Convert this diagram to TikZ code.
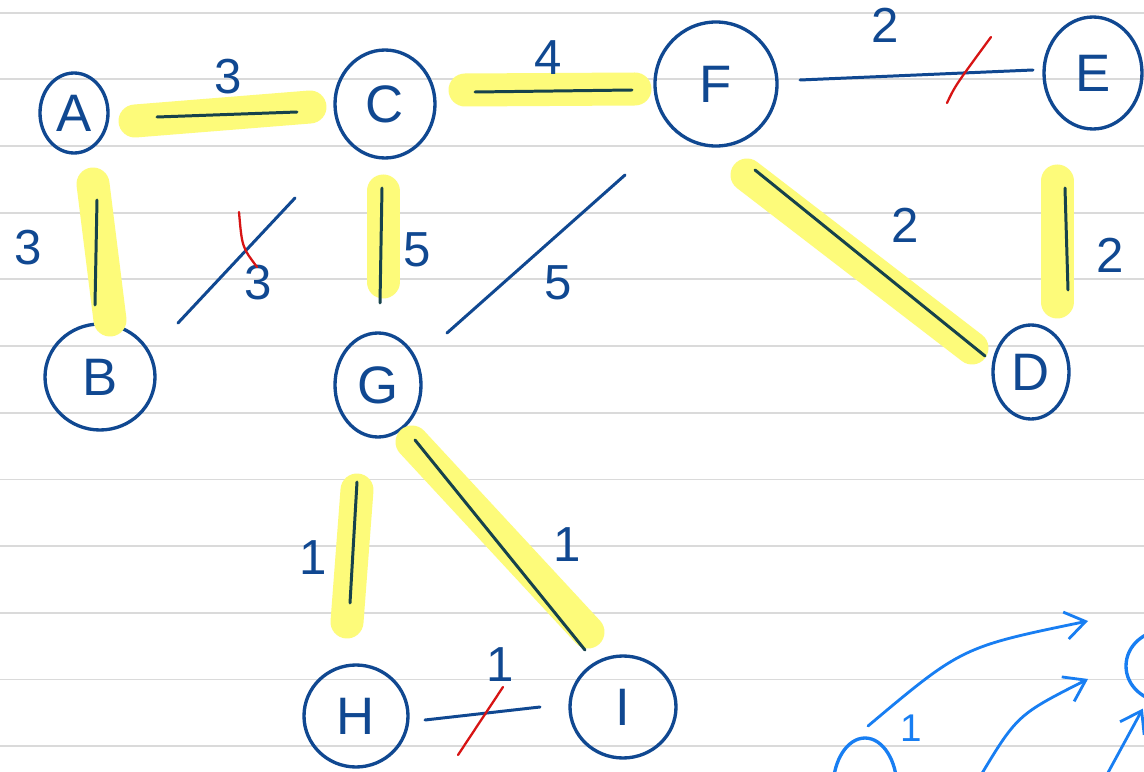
\documentclass[tikz,border=0pt]{standalone}
\usepackage{fontspec}
\setmainfont{Liberation Sans}
\usetikzlibrary{arrows.meta,shapes.geometric}
\definecolor{ink}{RGB}{16,72,145}
\definecolor{inkhl}{RGB}{22,66,76}
\definecolor{marker}{RGB}{253,251,122}
\definecolor{redpen}{RGB}{215,20,20}
\definecolor{skyink}{RGB}{24,126,242}
\definecolor{rule}{RGB}{218,218,218}
\tikzset{
  vertex/.style={ellipse,draw=#1,line width=1.9pt,text=ink,inner sep=0pt,
    font=\fontsize{30}{32}\selectfont},
  vertex/.default=ink,
  edge/.style={draw=#1,line width=1.7pt,line cap=round},
  edge/.default=ink,
  hilite/.style={draw=marker,line width=6.6mm,line cap=round},
  weight/.style={text=#1,font=\fontsize{28}{30}\selectfont,inner sep=0pt},
  weight/.default=ink,
  strike/.style={draw=redpen,line width=1.3pt,line cap=round},
  sketch/.style={draw=skyink,line width=1.6pt,line cap=round},
  arr/.style={sketch,-{Straight Barb[length=4mm,width=5.5mm]}},
  ruled/.style={draw=rule,line width=1pt},
}

\begin{document}
\begin{tikzpicture}[x=0.2mm,y=-0.2mm]
  \useasboundingbox (0,0) rectangle (1144,772);
  \fill[white] (0,0) rectangle (1144,772);
  \clip (0,0) rectangle (1144,772);
  % paper
  \foreach \k in {0,...,11} \draw[ruled] (0,12.7+66.67*\k) -- (1144,12.7+66.67*\k);
  % vertices
  \foreach \n/\x/\y/\w/\h in {A/74/113/68/80, B/100/377/110/106, C/385/104/100/108,
    D/1031/372/76/94, E/1093/73/98/112, F/716/84/122/124, G/378/385/86/104,
    H/356/716/104/102, I/623/707/106/102}
    \node[vertex,minimum width=\w*0.2mm,minimum height=\h*0.2mm] (\n) at (\x,\y) {\n};
  % marker under the tree edges
  \foreach \u/\ax/\ay/\v/\bx/\by in {A/61/8/C/-75/3, C/80/-14/F/-81/5, A/19/71/B/10/-57,
    C/-2/87/G/5/-103, F/31/91/D/-59/-24, E/-36/108/D/26/-70, G/-21/105/H/-9/-94, G/34/57/I/-35/-75}
    \draw[hilite] ([shift={(\ax,\ay)}]\u.center) -- ([shift={(\bx,\by)}]\v.center);
  \foreach \u/\ax/\ay/\v/\bx/\by in {A/83/4/C/-88/8, C/90/-12/F/-84/6, A/23/87/B/-5/-72,
    C/-3/84/G/2/-82, F/39/86/D/-46/-16, E/-28/115/D/37/-82, G/-21/97/H/-6/-113, G/37/55/I/-38/-57}
    \draw[edge=inkhl] ([shift={(\ax,\ay)}]\u.center) -- ([shift={(\bx,\by)}]\v.center);
  % the rest
  \foreach \u/\ax/\ay/\v/\bx/\by in {F/84/-4/E/-60/-3, B/78/-54/C/-90/94, G/69/-52/F/-91/91, H/69/4/I/-83/0}
    \draw[edge] ([shift={(\ax,\ay)}]\u.center) -- ([shift={(\bx,\by)}]\v.center);
  % weights
  \foreach \t/\x/\y [count=\i] in {3/228/77, 4/548/58, 2/885/25, 3/28/248, 3/258/283, 5/417/250,
    5/558/283, 2/905/225, 2/1110/255, 1/313/558, 1/567/545, 1/500/665}
    \node[weight] (w\i) at (\x,\y) {\t};
  % crossed out
  \draw[strike] (239,212) .. controls (242,247) .. (257,267);
  \draw[strike] (947,103) .. controls (955,86) .. (991,37);
  \draw[strike] (458,755) -- (503,687);
  % next sketch, cut off
  \node[vertex=skyink,minimum width=64*0.2mm,minimum height=100*0.2mm] (J) at (865,788) {};
  \node[vertex=skyink,minimum width=80*0.2mm,minimum height=72*0.2mm] (K) at (1166,666) {};
  \coordinate (tip1) at (1088,621);
  \coordinate (tip2) at (1088,679);
  \coordinate (tail2) at (978,780);
  \coordinate (tail3) at (1104,780);
  \draw[arr] ([shift={(3,-62)}]J.center) .. controls (962,647) .. (tip1);
  \draw[arr] (tail2) .. controls (1017,715) .. (tip2);
  \draw[arr,shorten >=2mm] (tail3) -- (K);
  \node[weight=skyink,font=\fontsize{22}{24}\selectfont] (w13) at (911,728) {1};
\end{tikzpicture}
\end{document}
